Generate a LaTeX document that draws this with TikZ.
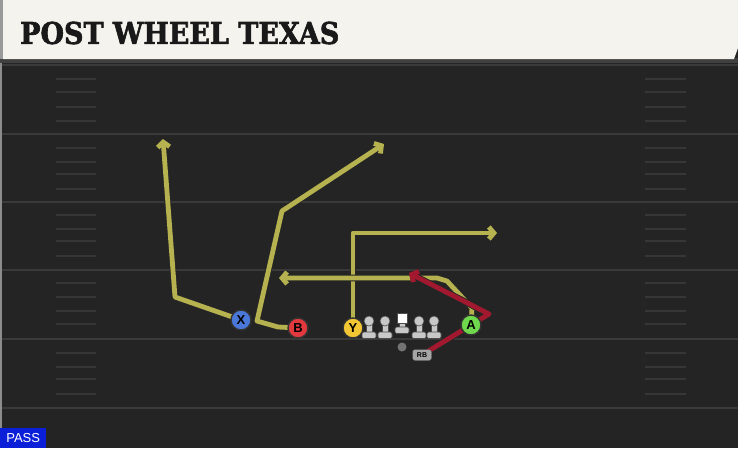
\documentclass[tikz,border=0pt]{standalone}
\usepackage{fontspec}
\usetikzlibrary{arrows.meta,positioning,shapes.misc}
\newfontfamily\titlefont[FakeBold=2]{DejaVu Serif Condensed}
\newfontfamily\tagfont{Liberation Sans}
\definecolor{fieldbg}{HTML}{242424}
\definecolor{yardline}{HTML}{3A3A3A}
\definecolor{hashline}{HTML}{363636}
\definecolor{titlebg}{HTML}{F5F3EE}
\definecolor{routeyellow}{HTML}{B5B24F}
\definecolor{routered}{HTML}{A2182F}
\definecolor{xblue}{HTML}{4A78D8}
\definecolor{bred}{HTML}{E2393F}
\definecolor{yyellow}{HTML}{F2C733}
\definecolor{agreen}{HTML}{6FD84C}
\definecolor{linegray}{HTML}{C8C8C8}
\definecolor{passblue}{HTML}{0B1FD8}
\pgfdeclarelayer{field}
\pgfdeclarelayer{routes}
\pgfsetlayers{field,routes,main}
\tikzset{
  player/.style={circle, draw=black!80, line width=1.4pt, minimum size=20pt, inner sep=0pt,
    font=\tagfont\bfseries\fontsize{13}{13}\selectfont},
  route/.style={draw=routeyellow, line width=4.8pt, line join=round,
    preaction={draw=black!85, line width=6.6pt},
    -{Straight Barb[length=5pt,width=12pt]}},
  hotroute/.style={route, draw=routered},
  yard/.style={draw=yardline, line width=2pt},
  hash/.style={draw=hashline, line width=1.5pt},
  lineman/.pic={
    \fill[linegray, draw=black!70, line width=0.6pt] (-2.8,0) rectangle (2.8,12);
    \fill[linegray, draw=black!70, line width=0.6pt, rounded corners=1.5pt] (-7,11) rectangle (7,17.5);
    \fill[linegray, draw=black!70, line width=0.6pt] (0,0) circle (5);
  },
  snapper/.pic={
    \fill[linegray, draw=black!70, line width=0.6pt] (-2.8,0) rectangle (2.8,10);
    \fill[linegray, draw=black!70, line width=0.6pt, rounded corners=1.5pt] (-7,9) rectangle (7,15.5);
    \fill[white, draw=black!70, line width=0.6pt] (-5.2,-5.2) rectangle (5.2,5.2);
  }
}
\begin{document}
\begin{tikzpicture}[x=1pt, y=-1pt]
  \useasboundingbox (0,0) rectangle (738,448);
  % field
  \begin{pgfonlayer}{field}
    \fill[fieldbg] (0,0) rectangle (738,448);
    \fill[black!75] (0,58) rectangle (738,63);
    \draw[yard] (2,65) -- (738,65);
    \foreach \y in {134,202,270,339,408}
      \draw[yard] (2,\y) -- (738,\y);
    \foreach \y in {79,92,107,121,148,162,174,189,215,229,241,256,283,297,311,324,353,367,379,394} {
      \draw[hash] (56,\y) -- (96,\y);
      \draw[hash] (645,\y) -- (686,\y);
    }
    \fill[black!45] (0,63) rectangle (2,448);
    % title bar
    \fill[black!40] (0,0) rectangle (3,59);
    \fill[titlebg] (3,0) -- (738,0) -- (738,48) -- (734,59) -- (3,59) -- cycle;
  \end{pgfonlayer}
  \node[anchor=west, inner sep=0pt, font=\titlefont\bfseries\fontsize{30}{30}\selectfont, text=black!90] (title) at (20,33) {POST WHEEL TEXAS};
  % players
  \node[player, fill=xblue] (X) at (241,320) {X};
  \node[player, fill=bred] (B) at (298,328) {B};
  \node[player, fill=yyellow] (Y) at (353,328) {Y};
  \node[player, fill=agreen] (A) at (471,325) {A};
  \foreach \x in {369,385,419,434}
    \pic at (\x,321) {lineman};
  \pic at (402,318) {snapper};
  \node[circle, fill=black!55, minimum size=9pt, inner sep=0pt] (ball) at (402,347) {};
  \node[draw=black!70, fill=black!35, rounded corners=2.5pt, minimum width=19pt, minimum height=11pt, inner sep=0pt,
    font=\tagfont\bfseries\fontsize{7}{7}\selectfont] (RB) at (422,355) {RB};
  \node[fill=passblue, text=white, anchor=south west, minimum width=46pt, minimum height=20pt, inner sep=0pt,
    font=\tagfont\fontsize{13}{13}\selectfont] (play) at (0,448) {PASS};
  % routes
  \coordinate (xend) at (163,139);
  \coordinate (bend) at (384,144);
  \coordinate (yend) at (497,233);
  \coordinate (aend) at (279,278);
  \coordinate (rbend) at (409,273);
  \begin{pgfonlayer}{routes}
    \draw[route] (X.center) -- (175,297) -- (xend);
    \draw[route] (B.center) -- (278,327) -- (257,321) -- (282,211) -- (bend);
    \draw[route] (Y.center) -- (353,233) -- (yend);
    \draw[route] (A.center) -- (472,308) -- (447,281) -- (437,278) -- (aend);
    \draw[hotroute] (RB.center) -- (489,314) -- (rbend);
  \end{pgfonlayer}
\end{tikzpicture}
\end{document}
